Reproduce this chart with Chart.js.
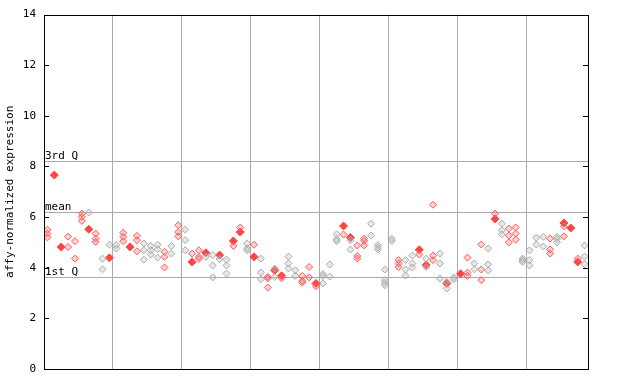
<!DOCTYPE html>
<html>
<head>
<meta charset="utf-8">
<script src="https://cdn.jsdelivr.net/npm/chart.js@4"></script>
<style>
  html, body { margin: 0; padding: 0; background: #fff; }
  #wrap { width: 640px; height: 384px; }
</style>
</head>
<body>
<div id="wrap"><canvas id="grafica" width="640" height="384"></canvas></div>
<script>
// ---- datos ----
const sampleCount = 79;
const groupBreaks = [10, 20, 30, 40, 50, 60, 70];
const yTicks = [0, 2, 4, 6, 8, 10, 12, 14];
const quartileLabels = ['3rd Q', 'mean', '1st Q'];
const quartileValues = [8.21, 6.22, 3.62];

// [columna, valor]
const redPoints = [
  [0,5.5],[0,5.35],[0,5.2],[3,5.23],[3,4.82],[4,5.05],[4,4.36],[5,6.14],[5,6.01],[5,5.85],
  [7,5.35],[7,5.15],[7,5.02],[11,5.38],[11,5.22],[11,5.05],[13,5.26],[13,5.09],[13,4.65],
  [17,4.63],[17,4.43],[17,4.01],[19,5.68],[19,5.41],[19,5.24],[21,4.56],[22,4.69],[22,4.43],[22,4.35],
  [27,4.86],[28,5.59],[30,4.91],[32,3.64],[32,3.58],[32,3.22],[34,3.58],[37,3.68],[37,3.48],[37,3.42],
  [38,4.03],[38,3.62],[39,3.27],[43,5.31],[45,4.88],[45,4.46],[45,4.36],[46,5.15],[46,5.06],[46,4.88],
  [51,4.30],[51,4.17],[51,4.03],[54,4.52],[56,6.49],[56,4.48],[56,4.30],[61,4.40],[61,3.81],[61,3.68],
  [63,4.92],[63,3.93],[63,3.51],[65,6.14],[67,5.55],[67,5.27],[67,5.00],[68,5.59],[68,5.35],[68,5.11],
  [73,5.15],[73,4.72],[73,4.56],[75,5.64],[75,5.24],[77,4.36]
];
const grayPoints = [
  [6,6.18],[8,4.36],[8,3.94],[9,4.91],[10,4.89],[10,4.76],[14,4.96],[14,4.69],[14,4.32],
  [15,4.86],[15,4.69],[15,4.52],[16,4.91],[16,4.73],[16,4.40],[18,4.86],[18,4.56],
  [20,5.51],[20,5.09],[20,4.69],[23,4.43],[24,4.50],[24,4.09],[24,3.62],[25,4.34],
  [26,4.32],[26,4.09],[26,3.77],[29,4.96],[29,4.76],[29,4.69],[31,4.36],[31,3.81],[31,3.55],
  [33,3.97],[33,3.64],[35,4.44],[35,4.17],[35,3.97],[36,3.90],[36,3.68],[40,3.75],[40,3.67],[40,3.38],
  [41,4.13],[41,3.65],[42,5.32],[42,5.13],[42,5.05],[44,5.09],[44,4.72],[47,5.74],[47,5.27],
  [48,4.89],[48,4.80],[48,4.72],[49,3.93],[49,3.51],[49,3.40],[49,3.31],[50,5.15],[50,5.06],
  [52,4.30],[52,3.93],[52,3.69],[53,4.48],[53,4.17],[53,4.01],[55,4.36],[55,4.03],
  [57,4.56],[57,4.17],[57,3.58],[58,3.44],[58,3.18],[59,3.62],[59,3.54],[62,4.17],[62,3.94],
  [64,4.76],[64,4.13],[64,3.90],[66,5.74],[66,5.48],[66,5.32],[69,4.36],[69,4.30],[69,4.23],
  [70,4.69],[70,4.30],[70,4.09],[71,5.19],[71,4.92],[72,5.22],[72,4.84],[74,5.22],[74,5.14],[74,5.00],
  [78,4.88],[78,4.44],[78,4.14]
];
const filledPoints = [
  [1,7.66],[2,4.82],[6,5.52],[9,4.39],[12,4.82],[21,4.23],[23,4.59],[25,4.50],[27,5.06],[28,5.41],
  [30,4.43],[33,3.90],[34,3.68],[39,3.38],[43,5.65],[44,5.19],[54,4.71],[55,4.11],[58,3.38],
  [60,3.76],[65,5.93],[75,5.77],[76,5.57],[77,4.23]
];

const FUENTE = 'DejaVu Sans Mono';
const aPuntos = arr => arr.map(p => ({ x: p[0] + 0.5, y: p[1] }));

// ---- plugin: marco, marcas internas, lineas de cuartiles ----
const marcoPlugin = {
  id: 'marco',
  beforeDatasetsDraw(chart) {
    const { ctx, chartArea: a, scales } = chart;
    ctx.save();
    ctx.strokeStyle = '#aaaaaa';
    ctx.lineWidth = 1;
    ctx.font = '11px ' + FUENTE;
    ctx.textBaseline = 'bottom';
    quartileValues.forEach((v, i) => {
      const y = Math.round(scales.y.getPixelForValue(v)) + 0.5;
      ctx.beginPath();
      ctx.moveTo(a.left, y);
      ctx.lineTo(a.right, y);
      ctx.stroke();
      ctx.fillStyle = '#000';
      ctx.fillText(quartileLabels[i], a.left + 1, y);
    });
    ctx.restore();
  },
  afterDraw(chart) {
    const { ctx, chartArea: a, scales } = chart;
    ctx.save();
    ctx.strokeStyle = '#000';
    ctx.lineWidth = 1;
    ctx.strokeRect(Math.round(a.left) + 0.5, Math.round(a.top) + 0.5,
                   Math.round(a.right - a.left), Math.round(a.bottom - a.top));
    yTicks.forEach(t => {
      const y = Math.round(scales.y.getPixelForValue(t)) + 0.5;
      ctx.beginPath();
      ctx.moveTo(a.left, y); ctx.lineTo(a.left + 5, y);
      ctx.moveTo(a.right, y); ctx.lineTo(a.right - 5, y);
      ctx.stroke();
    });
    ctx.restore();
  }
};

const ctx = document.getElementById('grafica').getContext('2d');
new Chart(ctx, {
  type: 'scatter',
  data: {
    datasets: [
      {
        data: aPuntos(grayPoints),
        pointStyle: 'rectRot', pointRadius: 3.5, borderWidth: 1,
        borderColor: '#aaaaaa', backgroundColor: 'rgba(190,190,190,0.35)'
      },
      {
        data: aPuntos(redPoints),
        pointStyle: 'rectRot', pointRadius: 3.5, borderWidth: 1,
        borderColor: '#ff5a5a', backgroundColor: 'rgba(255,100,100,0.3)'
      },
      {
        data: aPuntos(filledPoints),
        pointStyle: 'rectRot', pointRadius: 4, borderWidth: 1,
        borderColor: '#ff4444', backgroundColor: '#ff4444'
      }
    ]
  },
  options: {
    responsive: false,
    animation: false,
    layout: { padding: { top: 14, right: 52, left: 0, bottom: 0 } },
    plugins: { legend: { display: false }, tooltip: { enabled: false } },
    elements: { point: { hoverRadius: 3.5 } },
    scales: {
      x: {
        type: 'linear', min: 0, max: sampleCount,
        ticks: { display: false, stepSize: 10 },
        grid: {
          drawTicks: false,
          color: c => groupBreaks.includes(c.tick.value) ? '#aaaaaa' : 'rgba(0,0,0,0)'
        },
        border: { display: false },
        afterFit: s => { s.height = 15; }
      },
      y: {
        min: 0, max: 14,
        afterBuildTicks: s => { s.ticks = yTicks.map(v => ({ value: v })); },
        ticks: { color: '#000', font: { family: FUENTE, size: 11 }, padding: 8 },
        grid: { display: false, drawTicks: false },
        border: { display: false },
        title: {
          display: true, text: 'affy-normalized expression',
          color: '#000', font: { family: FUENTE, size: 11 }, padding: { top: 4, bottom: 0 }
        },
        afterFit: s => { s.width = 44; }
      }
    }
  },
  plugins: [marcoPlugin]
});
</script>
</body>
</html>
